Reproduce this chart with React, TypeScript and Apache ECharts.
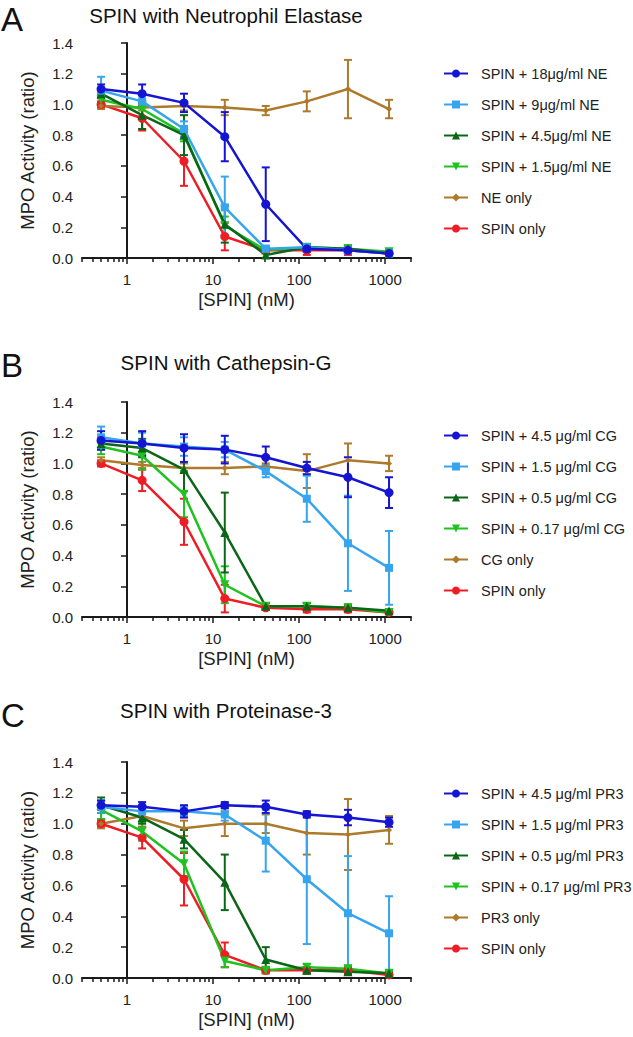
import React, { useEffect, useRef } from "react";
import * as echarts from "echarts";

// ---------------- data ----------------
const concentrations = [0.5, 1.5, 4.6, 13.7, 41, 123, 370, 1111]; // [SPIN] nM
const majorTicks = [1, 10, 100, 1000];
const minorTicks = [0.3, 0.4, 0.5, 0.6, 0.7, 0.8, 0.9, 2, 3, 4, 5, 6, 7, 8, 9, 20, 30, 40, 50, 60, 70, 80, 90, 200, 300, 400, 500, 600, 700, 800, 900, 2000];

const panelLetters = ["A", "B", "C"];
const panelTitles = ["SPIN with Neutrophil Elastase", "SPIN with Cathepsin-G", "SPIN with Proteinase-3"];

const namesA = ["SPIN + 18μg/ml NE", "SPIN + 9μg/ml NE", "SPIN + 4.5μg/ml NE", "SPIN + 1.5μg/ml NE", "NE only", "SPIN only"];
const namesB = ["SPIN + 4.5 μg/ml CG", "SPIN + 1.5 μg/ml CG", "SPIN + 0.5 μg/ml CG", "SPIN + 0.17 μg/ml CG", "CG only", "SPIN only"];
const namesC = ["SPIN + 4.5 μg/ml PR3", "SPIN + 1.5 μg/ml PR3", "SPIN + 0.5 μg/ml PR3", "SPIN + 0.17 μg/ml PR3", "PR3 only", "SPIN only"];

// Panel A (Neutrophil Elastase) means and errors
const a18 = [1.10, 1.07, 1.01, 0.79, 0.35, 0.06, 0.05, 0.03];
const a18Err = [0.03, 0.06, 0.06, 0.16, 0.24, 0.02, 0.02, 0.02];
const a9 = [1.09, 1.02, 0.84, 0.33, 0.06, 0.07, 0.05, 0.03];
const a9Err = [0.09, 0.04, 0.05, 0.20, 0.02, 0.02, 0.02, 0.01];
const a45 = [1.07, 0.93, 0.80, 0.22, 0.02, 0.07, 0.06, 0.03];
const a45Err = [0.03, 0.09, 0.13, 0.12, 0.02, 0.02, 0.02, 0.01];
const a15 = [1.03, 0.97, 0.81, 0.21, 0.05, 0.07, 0.06, 0.04];
const a15Err = [0.03, 0.05, 0.05, 0.06, 0.02, 0.02, 0.02, 0.01];
const aEnz = [0.99, 0.98, 0.99, 0.98, 0.96, 1.02, 1.10, 0.97];
const aEnzErr = [0.02, 0.02, 0.03, 0.05, 0.03, 0.065, 0.19, 0.06];
const aSpin = [1.00, 0.91, 0.63, 0.14, 0.05, 0.05, 0.05, 0.03];
const aSpinErr = [0.02, 0.08, 0.16, 0.09, 0.02, 0.03, 0.03, 0.02];

// Panel B (Cathepsin-G)
const b45 = [1.15, 1.13, 1.10, 1.09, 1.04, 0.97, 0.91, 0.81];
const b45Err = [0.06, 0.08, 0.09, 0.09, 0.07, 0.04, 0.13, 0.10];
const b15 = [1.17, 1.13, 1.11, 1.09, 0.95, 0.77, 0.48, 0.32];
const b15Err = [0.07, 0.07, 0.06, 0.05, 0.04, 0.15, 0.31, 0.24];
const b05 = [1.13, 1.10, 0.96, 0.55, 0.07, 0.07, 0.06, 0.04];
const b05Err = [0.04, 0.06, 0.14, 0.26, 0.02, 0.02, 0.02, 0.01];
const b017 = [1.11, 1.05, 0.80, 0.21, 0.07, 0.07, 0.06, 0.03];
const b017Err = [0.05, 0.09, 0.15, 0.12, 0.02, 0.02, 0.02, 0.01];
const bEnz = [1.02, 0.99, 0.97, 0.97, 0.98, 0.95, 1.02, 1.00];
const bEnzErr = [0.02, 0.02, 0.03, 0.04, 0.02, 0.11, 0.11, 0.05];
const bSpin = [1.00, 0.89, 0.62, 0.12, 0.06, 0.05, 0.05, 0.03];
const bSpinErr = [0.02, 0.07, 0.15, 0.09, 0.01, 0.02, 0.02, 0.01];

// Panel C (Proteinase-3)
const c45 = [1.12, 1.11, 1.08, 1.12, 1.11, 1.06, 1.04, 1.01];
const c45Err = [0.03, 0.03, 0.04, 0.02, 0.04, 0.02, 0.05, 0.03];
const c15 = [1.11, 1.08, 1.08, 1.06, 0.89, 0.64, 0.42, 0.29];
const c15Err = [0.04, 0.04, 0.03, 0.04, 0.20, 0.42, 0.37, 0.24];
const c05 = [1.12, 1.04, 0.90, 0.62, 0.12, 0.05, 0.04, 0.03];
const c05Err = [0.05, 0.04, 0.06, 0.18, 0.08, 0.02, 0.02, 0.01];
const c017 = [1.09, 0.95, 0.74, 0.11, 0.05, 0.07, 0.06, 0.03];
const c017Err = [0.06, 0.06, 0.08, 0.04, 0.02, 0.02, 0.02, 0.01];
const cEnz = [1.00, 1.05, 0.97, 1.00, 1.00, 0.94, 0.93, 0.96];
const cEnzErr = [0.03, 0.07, 0.05, 0.08, 0.06, 0.14, 0.23, 0.09];
const cSpin = [1.00, 0.91, 0.64, 0.15, 0.05, 0.05, 0.05, 0.02];
const cSpinErr = [0.02, 0.07, 0.17, 0.08, 0.02, 0.02, 0.02, 0.01];

// ---------------- styling ----------------
const colors = ["#1414d2", "#37a5ee", "#0b6618", "#1fc21f", "#ad7a2c", "#ee1c24"];
const symbols = ["circle", "rect", "triangle", "triangle", "diamond", "circle"];
const symbolRotates = [0, 0, 0, 180, 0, 0];
const symbolSizes = [9, 8, 9, 9, 6, 9];
const FONT = "'Liberation Sans', Arial, Helvetica, sans-serif";
const AXIS_COLOR = "#1a1a1a";
const TEXT_COLOR = "#222";

const panels = [
  { names: namesA, means: [a18, a9, a45, a15, aEnz, aSpin], errs: [a18Err, a9Err, a45Err, a15Err, aEnzErr, aSpinErr] },
  { names: namesB, means: [b45, b15, b05, b017, bEnz, bSpin], errs: [b45Err, b15Err, b05Err, b017Err, bEnzErr, bSpinErr] },
  { names: namesC, means: [c45, c15, c05, c017, cEnz, cSpin], errs: [c45Err, c15Err, c05Err, c017Err, cEnzErr, cSpinErr] },
];

const layout = [
  { top: 43, height: 215, titleY: 15, letterY: 19, legendTop: 61 },
  { top: 402, height: 215, titleY: 362, letterY: 365, legendTop: 423 },
  { top: 762, height: 216, titleY: 710, letterY: 715, legendTop: 781 },
];
const GRID_LEFT = 82;
const GRID_WIDTH = 329;

const lg = (v: number) => Math.log10(v);

function buildOption() {
  const grids: any[] = [];
  const xAxes: any[] = [];
  const yAxes: any[] = [];
  const series: any[] = [];
  const legends: any[] = [];
  const graphics: any[] = [];

  panels.forEach((panel, p) => {
    const L = layout[p];
    grids.push({ left: GRID_LEFT, top: L.top, width: GRID_WIDTH, height: L.height, containLabel: false });
    xAxes.push({
      type: "value",
      gridIndex: p,
      min: lg(0.3),
      max: lg(2000),
      name: "[SPIN] (nM)",
      nameLocation: "middle",
      nameGap: 32,
      nameTextStyle: { fontSize: 18.5, color: TEXT_COLOR, fontFamily: FONT, verticalAlign: "top" },
      axisLine: { show: true, onZero: false, lineStyle: { color: AXIS_COLOR, width: 2 } },
      axisTick: { show: true, length: 6, customValues: majorTicks.map(lg), lineStyle: { color: AXIS_COLOR, width: 1.5 } },
      axisLabel: {
        show: true,
        customValues: majorTicks.map(lg),
        formatter: (v: number) => String(Math.round(Math.pow(10, v))),
        fontSize: 15,
        color: TEXT_COLOR,
        fontFamily: FONT,
        margin: 14,
      },
      splitLine: { show: false },
    });
    yAxes.push({
      type: "value",
      gridIndex: p,
      min: 0,
      max: 1.4,
      interval: 0.2,
      name: "MPO Activity (ratio)",
      nameLocation: "middle",
      nameGap: 45,
      nameTextStyle: { fontSize: 18.5, color: TEXT_COLOR, fontFamily: FONT },
      axisLine: { show: true, lineStyle: { color: AXIS_COLOR, width: 2 } },
      axisTick: { show: true, length: 6, lineStyle: { color: AXIS_COLOR, width: 1.5 } },
      axisLabel: {
        formatter: (v: number) => v.toFixed(1),
        fontSize: 15,
        color: TEXT_COLOR,
        fontFamily: FONT,
        margin: 9,
      },
      splitLine: { show: false },
    });
    xAxes.push({
      type: "value",
      gridIndex: p,
      min: lg(0.3),
      max: lg(2000),
      position: "bottom",
      axisLine: { show: false },
      axisTick: { show: true, length: 4, customValues: minorTicks.map(lg), lineStyle: { color: AXIS_COLOR, width: 1.5 } },
      axisLabel: { show: false },
      splitLine: { show: false },
    });

    const xIdx = p * 2;
    for (let k = panel.names.length - 1; k >= 0; k--) {
      const color = colors[k];
      const means = panel.means[k];
      const errs = panel.errs[k];
      series.push({
        type: "custom",
        name: `err-${p}-${k}`,
        xAxisIndex: xIdx,
        yAxisIndex: p,
        silent: true,
        clip: true,
        z: 2,
        encode: { x: 0, y: [1, 2] },
        data: concentrations.map((c, i) => [lg(c), Math.max(0, means[i] - errs[i]), means[i] + errs[i]]),
        renderItem: (params: any, api: any) => {
          const x = api.value(0);
          const lo = api.coord([x, api.value(1)]);
          const hi = api.coord([x, api.value(2)]);
          const w = 4;
          const st = { stroke: color, lineWidth: 2 };
          return {
            type: "group",
            children: [
              { type: "line", shape: { x1: lo[0], y1: lo[1], x2: hi[0], y2: hi[1] }, style: st },
              { type: "line", shape: { x1: lo[0] - w, y1: lo[1], x2: lo[0] + w, y2: lo[1] }, style: st },
              { type: "line", shape: { x1: hi[0] - w, y1: hi[1], x2: hi[0] + w, y2: hi[1] }, style: st },
            ],
          };
        },
      });
      series.push({
        type: "line",
        name: panel.names[k],
        xAxisIndex: xIdx,
        yAxisIndex: p,
        z: 3,
        data: concentrations.map((c, i) => [lg(c), means[i]]),
        symbol: symbols[k],
        symbolSize: symbolSizes[k],
        symbolRotate: symbolRotates[k],
        showAllSymbol: true,
        lineStyle: { color, width: 2.5 },
        itemStyle: { color, borderWidth: 0 },
        emphasis: { disabled: true },
      });
    }

    legends.push({
      orient: "vertical",
      left: 438,
      top: L.legendTop,
      itemWidth: 24,
      itemHeight: 10,
      itemGap: 16,
      selectedMode: false,
      data: panel.names,
      textStyle: { fontSize: 14.5, color: TEXT_COLOR, fontFamily: FONT, padding: [0, 0, 0, 8] },
    });

    graphics.push({
      type: "text",
      x: 1,
      y: L.letterY,
      style: {
        text: panelLetters[p],
        fontSize: 33,
        fontFamily: FONT,
        fill: "#111",
        textAlign: "left",
        textVerticalAlign: "middle",
      },
    });
    graphics.push({
      type: "text",
      x: 226,
      y: L.titleY,
      style: {
        text: panelTitles[p],
        fontSize: 20.5,
        fontFamily: FONT,
        fill: "#111",
        textAlign: "center",
        textVerticalAlign: "middle",
      },
    });
  });

  return {
    animation: false,
    backgroundColor: "#ffffff",
    grid: grids,
    xAxis: xAxes,
    yAxis: yAxes,
    legend: legends,
    series,
    graphic: graphics,
  };
}

export default function App() {
  const ref = useRef<HTMLDivElement>(null);
  useEffect(() => {
    document.body.style.margin = "0";
    if (!ref.current) return;
    const chart = echarts.init(ref.current, undefined, { renderer: "svg" });
    chart.setOption(buildOption() as any);
    return () => chart.dispose();
  }, []);
  return <div ref={ref} style={{ width: 633, height: 1037 }} />;
}
